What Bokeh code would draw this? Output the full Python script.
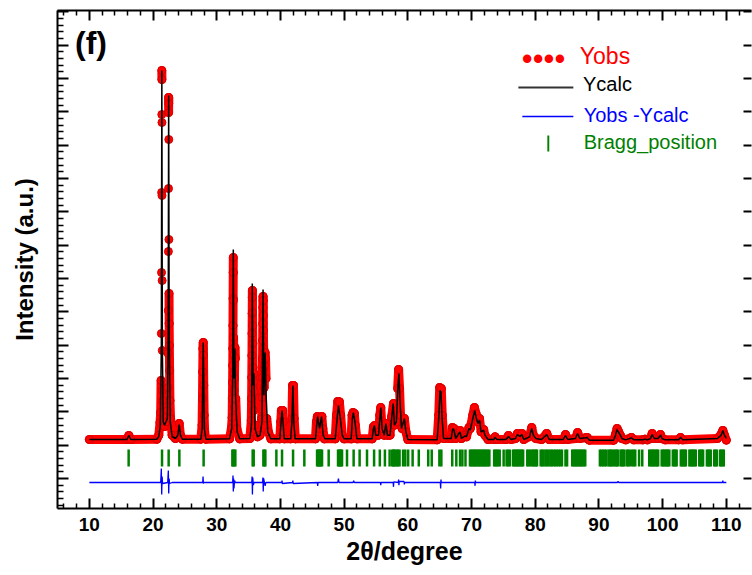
from bokeh.plotting import figure
from bokeh.models import (Range1d, FixedTicker, LinearAxis, Label, BoxAnnotation,
                          ColumnDataSource)
from bokeh.embed import file_html
from bokeh.resources import INLINE

FONT = "Liberation Sans"

# ---------------- data ----------------
obs_x = [10.0, 15.9, 16.2, 16.5, 20.6, 20.9, 21.1,
         21.20, 21.26, 21.30, 21.33, 21.35, 21.37, 21.38, 21.39, 21.40, 21.41, 21.43, 21.45, 21.48, 21.52, 21.58,
         21.8, 22.1,
         22.28, 22.32, 22.36, 22.39, 22.41, 22.43, 22.44, 22.45, 22.46, 22.47, 22.49, 22.51, 22.53, 22.56, 22.60, 22.65,
         22.75, 23.0, 23.5, 23.9, 24.1, 24.3, 24.6,
         27.5, 27.70, 27.76, 27.80, 27.84, 27.88, 27.92, 27.96, 28.02, 28.10, 28.3,
         32.0, 32.3, 32.42, 32.46, 32.49, 32.51, 32.53, 32.55, 32.57, 32.59, 32.6, 32.62, 32.64, 32.66, 32.68, 32.7, 32.73, 32.78, 32.85, 32.92, 32.98, 33.15, 33.6,
         35.2, 35.42, 35.47, 35.5, 35.53, 35.55, 35.57, 35.59, 35.6, 35.62, 35.64, 35.66, 35.69, 35.72, 35.76, 35.8, 35.84, 35.9, 36.0, 36.4,
         36.8, 37.05, 37.12, 37.16, 37.19, 37.21, 37.23, 37.25, 37.27, 37.29, 37.31, 37.33, 37.36, 37.39, 37.43, 37.5, 37.58, 37.66, 37.74, 37.85, 38.1, 38.5,
         39.9, 40.05, 40.15, 40.35, 40.45, 40.6, 41.6, 41.8, 41.9, 42.05, 42.15, 42.35,
         45.5, 45.65, 45.8, 45.95, 46.15, 46.35, 46.5, 46.65, 46.9,
         48.6, 48.8, 49.0, 49.25, 49.45, 49.7, 50.0, 51.1, 51.25, 51.4, 51.6, 51.75, 52.0,
         54.4, 54.6, 54.8, 54.95, 55.4, 55.6, 55.75, 55.95, 56.3, 56.55, 56.8, 57.2, 57.45, 57.75, 57.9, 58.2, 58.4, 58.55, 58.7, 58.85, 59.1, 59.3, 59.45, 59.7, 60.0,
         64.6, 64.85, 65.0, 65.25, 65.4, 65.65, 66.8, 67.0, 67.25, 67.5, 68.0, 68.2, 68.4, 69.0, 69.2, 69.6, 69.8, 70.2, 70.45, 70.7, 71.0, 71.25, 71.5, 71.9, 72.1, 72.6, 73.5, 73.7, 74.0,
         75.4, 75.8, 76.2, 76.9, 77.2, 77.6, 77.9, 78.2, 79.1, 79.45, 79.7, 80.1, 81.0, 81.8, 82.2, 84.4, 84.75, 85.1, 86.3, 86.65, 87.0, 87.9, 88.15, 88.5,
         92.3, 92.6, 92.85, 93.1, 93.35, 93.6, 94.2, 95.1, 95.5, 96.9, 97.2, 97.6, 98.1, 98.35, 98.7, 99.3, 99.65, 99.9, 100.4, 102.5, 102.8, 103.2, 108.6, 109.2, 109.45, 109.7, 110.0]
obs_y = [1170, 1170, 1290, 1170, 1180, 1300, 1680,
         1980, 2940, 4350, 6180, 8580, 10920, 12240, 11970, 10680, 8490, 5940, 3840, 2640, 2340, 1680,
         1560, 1700,
         2040, 2730, 3750, 5040, 6810, 8700, 10980, 11430, 11250, 10170, 7170, 5550, 4650, 3990, 3240, 2340,
         1800, 1300, 1200, 1300, 1650, 1300, 1180,
         1180, 1600, 2400, 3200, 3900, 4080, 3700, 2800, 1900, 1400, 1180,
         1190, 1500, 1830, 2400, 2880, 3390, 3900, 4590, 5400, 6180, 6630, 5340, 4230, 3690, 3150, 2640, 2130, 3000, 3930, 3600, 2400, 1500, 1190,
         1200, 1740, 2400, 3030, 3690, 4350, 4950, 5430, 5640, 4980, 4590, 4050, 3330, 2700, 2040, 2900, 3150, 2600, 1600, 1250,
         1300, 1800, 2430, 3030, 3600, 4140, 4650, 5130, 5460, 5340, 4890, 4440, 3900, 3300, 2730, 3400, 3780, 3600, 3000, 1800, 1400, 1190,
         1190, 1700, 2040, 2040, 1700, 1190, 1190, 1800, 2790, 2790, 1800, 1190,
         1190, 1700, 1860, 1800, 1500, 1800, 1860, 1500, 1190,
         1190, 1900, 2310, 2300, 1900, 1300, 1190, 1190, 1900, 1980, 1950, 1600, 1190,
         1190, 1550, 1590, 1300, 1300, 1900, 2130, 1500, 1300, 1650, 1300, 1300, 1850, 2250, 1600, 1700, 2700, 3270, 2700, 1900, 1500, 1750, 1800, 1400, 1170,
         1160, 1900, 2730, 2700, 1900, 1200, 1200, 1530, 1500, 1200, 1400, 1440, 1200, 1300, 1250, 1530, 1500, 1900, 2130, 1950, 1700, 1800, 1400, 1470, 1300, 1170, 1170, 1250, 1170,
         1170, 1290, 1170, 1200, 1350, 1270, 1350, 1170, 1260, 1530, 1300, 1200, 1170, 1350, 1170, 1170, 1320, 1170, 1200, 1380, 1200, 1220, 1230, 1150,
         1150, 1320, 1500, 1400, 1300, 1200, 1160, 1230, 1160, 1160, 1180, 1160, 1200, 1350, 1200, 1200, 1320, 1200, 1160, 1160, 1230, 1160, 1200, 1330, 1440, 1300, 1150]

calc_x = [10.0, 15.9, 16.2, 16.5, 20.6, 20.9, 21.15, 21.30, 21.38, 21.46, 21.6, 21.8, 22.25, 22.38,
          22.45, 22.53, 22.7, 23.0, 23.5, 23.9, 24.1, 24.3, 24.6, 27.5, 27.72, 27.8, 27.88, 27.96,
          28.05, 28.3, 32.0, 32.35, 32.5, 32.6, 32.7, 32.85, 32.95, 33.2, 33.6, 35.2, 35.45, 35.58,
          35.7, 35.85, 36.0, 36.4, 36.8, 37.1, 37.27, 37.4, 37.6, 37.75, 38.0, 38.5, 39.9, 40.1,
          40.25, 40.4, 40.6, 41.6, 41.8, 41.95, 42.1, 42.3, 45.5, 45.7, 45.84, 46.15, 46.45, 46.7,
          47.0, 48.6, 48.85, 49.1, 49.4, 49.7, 50.0, 51.1, 51.3, 51.45, 51.7, 52.0, 54.4, 54.6,
          54.75, 54.95, 55.4, 55.6, 55.75, 55.95, 56.3, 56.55, 56.8, 57.2, 57.45, 57.7, 57.9, 58.2,
          58.45, 58.6, 58.75, 59.0, 59.3, 59.45, 59.7, 60.0, 64.6, 64.85, 65.05, 65.2, 65.35, 65.6,
          66.8, 67.05, 67.25, 67.5, 68.0, 68.2, 68.4, 69.0, 69.2, 69.6, 69.8, 70.2, 70.5, 70.7,
          71.0, 71.25, 71.5, 71.9, 72.1, 72.6, 73.5, 73.7, 74.0, 75.4, 75.8, 76.2, 76.9, 77.2, 77.6,
          77.9, 78.2, 79.1, 79.45, 79.7, 80.1, 81.0, 81.8, 82.2, 84.4, 84.75, 85.1, 86.3, 86.65,
          87.0, 87.9, 88.15, 88.5, 92.3, 92.6, 92.85, 93.1, 93.35, 93.6, 94.2, 95.1, 95.5, 96.9,
          97.2, 97.6, 98.1, 98.35, 98.7, 99.3, 99.65, 99.9, 100.4, 102.5, 102.8, 103.2, 108.6,
          109.2, 109.45, 109.7, 110.0]
calc_y = [1170, 1170, 1290, 1170, 1180, 1260, 1600, 4000, 12240, 4000, 1700, 1600, 1800, 4500,
          11490, 4500, 1700, 1260, 1200, 1300, 1620, 1300, 1180, 1180, 1500, 3000, 4080, 3000,
          1500, 1180, 1190, 1500, 3000, 6870, 3000, 3900, 2500, 1400, 1190, 1200, 1600, 5850,
          2800, 3150, 1500, 1250, 1300, 1700, 5670, 2500, 3780, 2500, 1400, 1190, 1190, 1700,
          2040, 1700, 1190, 1190, 1700, 2790, 1700, 1190, 1190, 1600, 1860, 1500, 1860, 1300,
          1190, 1190, 1700, 2190, 1800, 1300, 1190, 1190, 1800, 1980, 1700, 1190, 1190, 1500,
          1590, 1300, 1300, 1800, 2130, 1500, 1300, 1650, 1300, 1300, 1800, 2250, 1600, 1700,
          2800, 3150, 2400, 1500, 1700, 1800, 1400, 1170, 1160, 1800, 2640, 2600, 1900, 1200,
          1200, 1500, 1450, 1200, 1350, 1400, 1200, 1280, 1250, 1500, 1450, 1800, 2040, 1850,
          1650, 1750, 1400, 1450, 1300, 1170, 1170, 1230, 1170, 1170, 1260, 1170, 1200, 1320, 1260,
          1320, 1170, 1250, 1500, 1300, 1200, 1170, 1320, 1170, 1170, 1290, 1170, 1200, 1350,
          1200, 1220, 1230, 1150, 1150, 1300, 1470, 1380, 1300, 1200, 1160, 1220, 1160, 1160,
          1180, 1160, 1200, 1320, 1200, 1200, 1300, 1200, 1160, 1160, 1230, 1160, 1200,
          1300, 1440, 1300, 1200]

diff_x = [10.0, 21.2, 21.3, 21.36, 21.42, 21.5, 22.3, 22.4, 22.46, 22.52, 22.6, 23.0, 27.8, 27.85,
          27.9, 27.95, 32.5, 32.55, 32.6, 32.65, 32.7, 32.8, 32.9, 35.5, 35.55, 35.6, 35.65, 35.75,
          35.85, 37.2, 37.25, 37.3, 37.35, 37.6, 37.7, 40.2, 40.25, 40.3, 41.9, 41.95, 42.0, 45.8,
          45.85, 45.9, 49.0, 49.1, 49.2, 51.4, 51.5, 51.6, 55.7, 55.75, 55.8, 57.7, 57.75, 57.8,
          58.5, 58.55, 58.6, 58.65, 59.4, 59.45, 59.5, 65.1, 65.15, 65.2, 65.25, 70.5, 70.55, 70.6,
          70.65, 92.9, 93.0, 93.1, 109.4, 109.45, 109.5, 110.0]
diff_y = [-120, -120, 300, -480, 60, -150, -120, 240, -450, 0, -150, -120, -120, 60,
          -150, -120, -120, 90, -390, 0, -300, -60, -120, -120, 60, -480, 30, -200,
          -120, -120, 30, -390, 0, -220, -120, -120, -60, -150, -120, -60, -150, -120,
          -220, -120, -120, 0, -120, -120, -70, -120, -120, -200, -120, -120, -250, -100,
          -120, -30, -200, -90, -90, -180, -120, -120, -300, -30, -120, -120, -220, -60,
          -120, -120, -80, -120, -120, -60, -120, -120]

bragg_x = [16.17, 21.41, 22.45, 24.13, 27.94,
           32.45, 32.6, 32.75, 32.92, 35.64, 35.8, 37.32, 37.47, 37.63, 39.36, 40.25, 41.98, 43.75,
           45.75, 45.9, 46.05, 46.2, 46.35, 46.53, 47.57, 49.04, 49.2, 49.35, 49.5, 49.67, 50.45,
           51.49, 52.43, 53.59, 54.7, 55.6, 56.4, 57.14, 57.55, 57.7, 57.88, 58.04, 58.3, 58.46,
           58.7, 59.25, 59.6, 60.05, 60.75, 61.72, 63.2, 63.75, 64.95, 65.26, 66.97, 67.61, 68.19,
           68.56, 69.05,
           69.75, 69.95, 70.15, 70.35, 70.55, 70.75, 70.95, 71.15, 71.35, 71.55, 71.75, 71.95,
           72.15, 72.35, 72.55, 72.8,
           73.55, 73.75, 73.95, 74.15, 74.42, 75.04, 75.5, 75.75, 76.0,
           76.5, 76.7, 76.9, 77.1, 77.3, 77.5, 77.7, 77.9, 78.1,
           78.75, 78.95, 79.2, 79.5, 79.7, 79.9, 80.1, 80.28, 80.85, 81.1, 81.3, 81.6, 81.85,
           82.1, 82.4, 82.6, 82.9, 83.15, 83.4, 83.7, 83.95, 84.2, 84.75, 85.0,
           85.8, 86.0, 86.2, 86.4, 86.6, 86.8, 87.0, 87.2, 87.4, 87.6, 87.85,
           90.15, 90.4, 90.65, 90.9, 91.15,
           91.5, 91.7, 91.9, 92.1, 92.35, 92.6, 92.8, 93.0, 93.4, 93.6, 93.8, 94.0, 94.4, 94.6,
           94.85, 95.2, 95.45, 95.7, 96.3, 96.8,
           97.9, 98.1, 98.3, 98.5, 98.7, 98.9, 99.1, 99.3, 99.85, 100.05, 100.25, 100.45, 100.65,
           100.85, 101.05, 101.6, 101.8, 102.0, 102.2, 102.85, 103.05, 103.25, 103.45, 103.65,
           104.2, 104.4, 104.6, 104.8, 105.0, 105.2, 105.75, 105.95, 106.15, 106.35, 106.95,
           107.15, 107.35, 107.55, 108.1, 108.3, 108.5, 109.0, 109.2, 109.4, 109.6]

x_major = [10, 20, 30, 40, 50, 60, 70, 80, 90, 100, 110]
x_minor = [6, 8, 12, 14, 16, 18, 22, 24, 26, 28, 32, 34, 36, 38, 42, 44, 46, 48, 52, 54, 56, 58,
           62, 64, 66, 68, 72, 74, 76, 78, 82, 84, 86, 88, 92, 94, 96, 98, 102, 104, 106, 108, 112]
y_major = [0, 1000, 2000, 3000, 4000, 5000, 6000, 7000, 8000, 9000, 10000, 11000, 12000, 13000, 14000]
y_minor = [v + d for v in [-1000] + y_major for d in (200, 400, 600, 800)]

# ---------------- figure ----------------
p = figure(frame_width=694, frame_height=498,
           x_range=Range1d(5, 113.95), y_range=Range1d(-900, 14040),
           output_backend="svg", toolbar_location=None,
           min_border_left=57, min_border_right=1, min_border_top=10, min_border_bottom=4,
           background_fill_color="white", border_fill_color="white")
p.outline_line_color = None
p.xgrid.visible = False
p.ygrid.visible = False

xt = FixedTicker(ticks=x_major, minor_ticks=x_minor)
yt = FixedTicker(ticks=y_major, minor_ticks=y_minor)


def style_axis(ax, major_in, minor_in, labels=True):
    ax.axis_line_width = 2
    ax.axis_line_color = "black"
    ax.major_tick_line_width = 2
    ax.minor_tick_line_width = 1.5
    ax.major_tick_in = major_in
    ax.major_tick_out = 0
    ax.minor_tick_in = minor_in
    ax.minor_tick_out = 0
    if not labels:
        ax.major_label_text_font_size = "0px"
        ax.major_label_text_color = None
        ax.major_label_standoff = 0


xa = p.xaxis[0]
xa.ticker = xt
style_axis(xa, 10, 5)
xa.major_label_text_font = FONT
xa.major_label_text_font_style = "bold"
xa.major_label_text_font_size = "19px"
xa.major_label_text_color = "black"
xa.major_label_standoff = 9
xa.axis_label = "2θ/degree"
xa.axis_label_text_font = FONT
xa.axis_label_text_font_style = "bold"
xa.axis_label_text_font_size = "25px"
xa.axis_label_text_color = "black"
xa.axis_label_standoff = 3

ya = p.yaxis[0]
ya.ticker = yt
style_axis(ya, 11, 6, labels=False)
ya.axis_label = "Intensity (a.u.)"
ya.axis_label_text_font = FONT
ya.axis_label_text_font_style = "bold"
ya.axis_label_text_font_size = "24px"
ya.axis_label_text_color = "black"
ya.axis_label_standoff = 20

top = LinearAxis(ticker=xt)
style_axis(top, 10, 5, labels=False)
p.add_layout(top, "above")

right = LinearAxis(ticker=yt)
style_axis(right, 8, 0, labels=False)
right.axis_line_color = None
right.minor_tick_line_color = None
p.add_layout(right, "right")

# ---------------- marks ----------------
obs = ColumnDataSource(dict(x=obs_x, y=obs_y))
calc = ColumnDataSource(dict(x=calc_x, y=calc_y))
diff = ColumnDataSource(dict(x=diff_x, y=diff_y))
BRAGG_LOW, BRAGG_HIGH = 360, 870
bragg = ColumnDataSource(dict(x=bragg_x, y0=[BRAGG_LOW] * len(bragg_x),
                              y1=[BRAGG_HIGH] * len(bragg_x)))

# dense observed points merge into a band: join neighbours that are close in intensity
STEP_JOIN = 1000
pairs = [(x0, y0, x1, y1) for x0, y0, x1, y1 in zip(obs_x[:-1], obs_y[:-1], obs_x[1:], obs_y[1:])
         if abs(y1 - y0) < STEP_JOIN]
band = ColumnDataSource(dict(x0=[a[0] for a in pairs], y0=[a[1] for a in pairs],
                             x1=[a[2] for a in pairs], y1=[a[3] for a in pairs]))

p.segment(x0="x0", y0="y0", x1="x1", y1="y1", source=band, line_color="#ff0000",
          line_width=9, line_cap="round")
p.scatter("x", "y", source=obs, size=8, fill_color="#ff0000", line_color="#d40000", line_width=1)
p.line("x", "y", source=calc, line_color="black", line_width=1.5)
p.line("x", "y", source=diff, line_color="#0000ff", line_width=1.3)
p.segment(x0="x", y0="y0", x1="x", y1="y1", source=bragg, line_color="#008000", line_width=2.5)

# ---------------- panel label and legend ----------------
p.add_layout(Label(x=7.75, y=13060, text="(f)", text_font=FONT, text_font_style="bold",
                   text_font_size="32px", text_baseline="middle", text_color="black"))

p.add_layout(Label(x=77.9, y=12600, text="••••", text_font=FONT, text_font_size="31px",
                   text_baseline="middle", text_color="#ff0000"))
p.add_layout(Label(x=87.0, y=12690, text="Yobs", text_font=FONT, text_font_size="23px",
                   text_baseline="middle", text_color="#ff0000"))
p.add_layout(BoxAnnotation(left=77.35, right=85.98, bottom=11700, top=11760,
                           fill_color="#333333", fill_alpha=1, line_color=None))
p.add_layout(Label(x=87.5, y=11850, text="Ycalc", text_font=FONT, text_font_size="20px",
                   text_baseline="middle", text_color="black"))
p.add_layout(BoxAnnotation(left=77.97, right=85.98, bottom=10840, top=10885,
                           fill_color="#0000ff", fill_alpha=1, line_color=None))
p.add_layout(Label(x=87.6, y=10920, text="Yobs -Ycalc", text_font=FONT, text_font_size="20px",
                   text_baseline="middle", text_color="#0000ff"))
p.add_layout(BoxAnnotation(left=81.9, right=82.2, bottom=9810, top=10290,
                           fill_color="#008000", fill_alpha=1, line_color=None))
p.add_layout(Label(x=87.6, y=10110, text="Bragg_position", text_font=FONT, text_font_size="20px",
                   text_baseline="middle", text_color="#008000"))

open("out.html", "w").write(file_html(p, INLINE))
